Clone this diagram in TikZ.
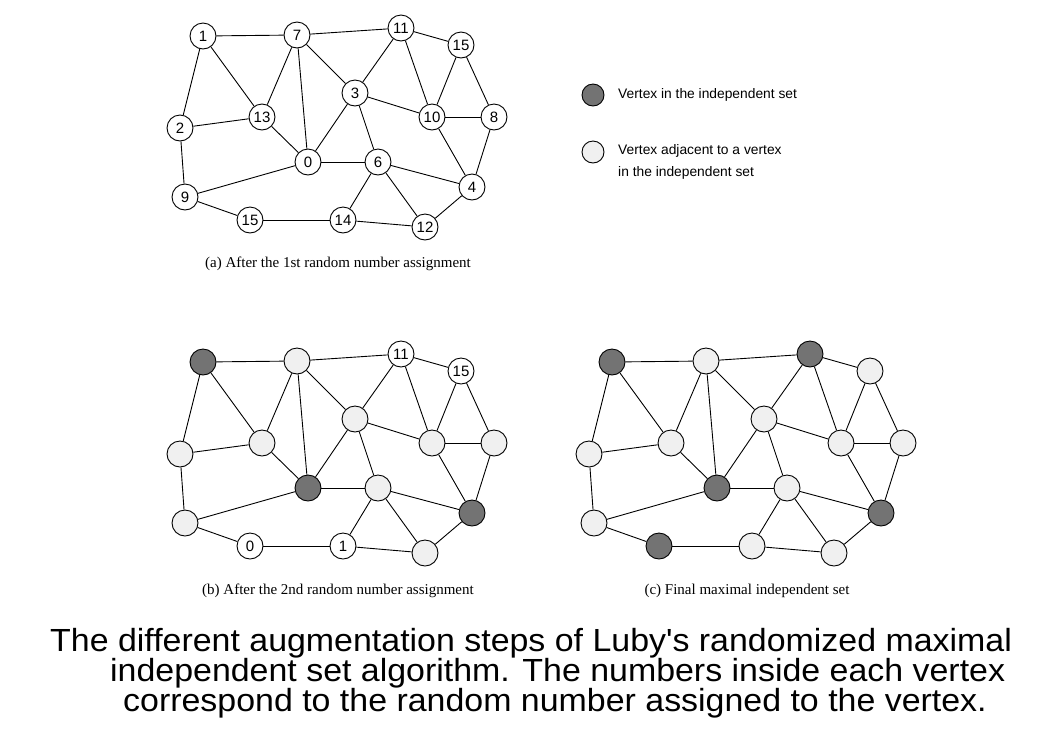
\documentclass[tikz,border=0pt]{standalone}
\usepackage{fontspec}
\setmainfont{Liberation Serif}
\newfontfamily\arialf{Liberation Sans}
\definecolor{darkv}{HTML}{737373}
\definecolor{lightv}{HTML}{F0F0F0}
\tikzset{
  v/.style={circle, draw=black, line width=0.9pt, minimum size=26pt, inner sep=0pt,
    font=\fontsize{15}{15}\selectfont\arialf},
  wh/.style={v, fill=white},
  dk/.style={v, fill=darkv},
  lt/.style={v, fill=lightv},
  legc/.style={circle, draw=black, line width=0.9pt, minimum size=22pt, inner sep=0pt},
  edge/.style={line width=0.9pt},
  subcap/.style={font=\fontsize{15}{15}\selectfont, inner sep=0pt},
  legtext/.style={font=\fontsize{13.8}{22}\selectfont\arialf, inner sep=0pt, anchor=west, align=left},
  capline/.style={font=\fontsize{32}{32}\selectfont\arialf, inner sep=0pt, anchor=base west}
}
\def\edgelist{1/7,1/13,1/2,7/13,7/0,7/3,7/11,11/3,11/10,11/15,15/10,15/8,3/10,3/0,3/6,13/2,13/0,10/8,10/4,8/4,0/6,0/9,6/4,6/14,6/12,2/9,9/15b,15b/14,14/12,12/4}
\begin{document}
\begin{tikzpicture}[x=1pt,y=-1pt]
\useasboundingbox (0,0) rectangle (1044,740);
\fill[white] (0,0) rectangle (1044,740);
% ---------------- graph (a)
\node[wh] (a1) at (203,36) {1};
\node[wh] (a7) at (297,35) {7};
\node[wh] (a11) at (401,28) {11};
\node[wh] (a15) at (461,45) {15};
\node[wh] (a3) at (355,93) {3};
\node[wh] (a13) at (262,117) {13};
\node[wh] (a2) at (180,128) {2};
\node[wh] (a10) at (432,117) {10};
\node[wh] (a8) at (494,117) {8};
\node[wh] (a0) at (308,162) {0};
\node[wh] (a6) at (378,162) {6};
\node[wh] (a4) at (472,187) {4};
\node[wh] (a9) at (185,197) {9};
\node[wh] (a15b) at (250,220) {15};
\node[wh] (a14) at (343,220) {14};
\node[wh] (a12) at (425,227) {12};
\node[subcap] (capa) at (338,264) {(a) After the 1st random number assignment};
% ---------------- graph (b)
\begin{scope}[shift={(0,326)}]
\node[dk] (b1) at (203,36) {};
\node[lt] (b7) at (297,35) {};
\node[wh] (b11) at (401,28) {11};
\node[wh] (b15) at (461,45) {15};
\node[lt] (b3) at (355,93) {};
\node[lt] (b13) at (262,117) {};
\node[lt] (b2) at (180,128) {};
\node[lt] (b10) at (432,117) {};
\node[lt] (b8) at (494,117) {};
\node[dk] (b0) at (308,162) {};
\node[lt] (b6) at (378,162) {};
\node[dk] (b4) at (472,187) {};
\node[lt] (b9) at (185,197) {};
\node[wh] (b15b) at (250,220) {0};
\node[wh] (b14) at (343,220) {1};
\node[lt] (b12) at (425,227) {};
\node[subcap] (capb) at (338,265) {(b) After the 2nd random number assignment};
\end{scope}
% ---------------- graph (c)
\begin{scope}[shift={(409,326)}]
\node[dk] (c1) at (203,36) {};
\node[lt] (c7) at (297,35) {};
\node[dk] (c11) at (401,28) {};
\node[lt] (c15) at (461,45) {};
\node[lt] (c3) at (355,93) {};
\node[lt] (c13) at (262,117) {};
\node[lt] (c2) at (180,128) {};
\node[lt] (c10) at (432,117) {};
\node[lt] (c8) at (494,117) {};
\node[dk] (c0) at (308,162) {};
\node[lt] (c6) at (378,162) {};
\node[dk] (c4) at (472,187) {};
\node[lt] (c9) at (185,197) {};
\node[dk] (c15b) at (250,220) {};
\node[lt] (c14) at (343,220) {};
\node[lt] (c12) at (425,227) {};
\node[subcap] (capc) at (338,265) {(c) Final maximal independent set};
\end{scope}
% ---------------- edges
\foreach \p in {a,b,c}{
  \foreach \u/\w in \edgelist { \draw[edge] (\p\u) -- (\p\w); }
}
% ---------------- legend
\node[legc, fill=darkv] (leg1) at (593,95) {};
\node[legtext] (legt1) at (618,95) {Vertex in the independent set};
\node[legc, fill=lightv] (leg2) at (593,152) {};
\node[legtext, anchor=north west] (legt2) at (618,144) {Vertex adjacent to a vertex\\in the independent set};
% ---------------- caption
\node[capline] (cap1) at (50,651) {\scalebox{1.06}[1]{The different augmentation steps of Luby's randomized maximal}};
\node[capline] (cap2) at (110,681) {\scalebox{1.06}[1]{independent set algorithm. The numbers inside each vertex}};
\node[capline] (cap3) at (123,711) {\scalebox{1.06}[1]{correspond to the random number assigned to the vertex.}};
\end{tikzpicture}
\end{document}
